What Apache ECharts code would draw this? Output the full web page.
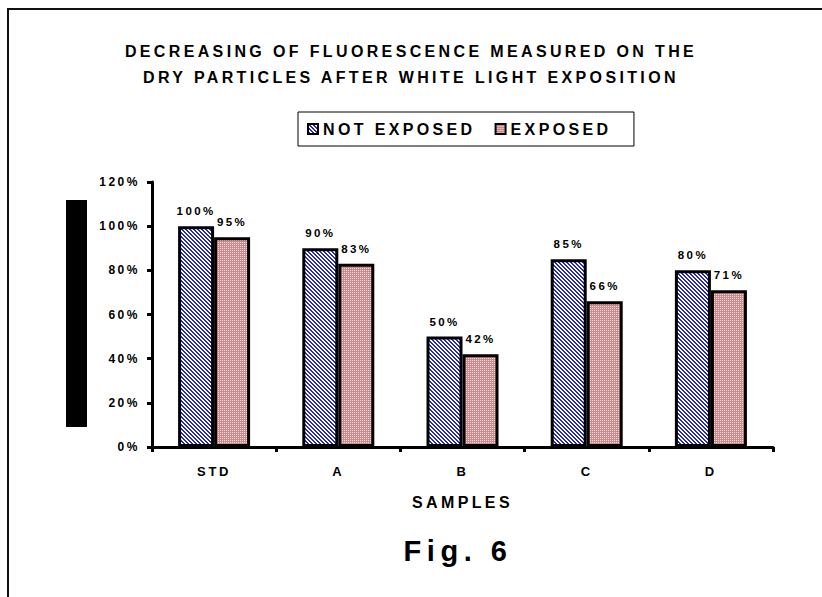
<!DOCTYPE html>
<html>
<head>
<meta charset="utf-8">
<script src="https://cdn.jsdelivr.net/npm/echarts@6/dist/echarts.min.js"></script>
<style>
  html, body { margin: 0; padding: 0; background: #fff; }
  #chart { width: 822px; height: 597px; }
  /* the original figure uses stretched, widely spaced bold text */
  #chart svg text { letter-spacing: 0.21em; }
</style>
</head>
<body>
<div id="chart"></div>
<script>
const categories = ['STD', 'A', 'B', 'C', 'D']
const notExposed = [100, 90, 50, 85, 80]
const exposed = [95, 83, 42, 66, 71]
const seriesNames = ['NOT EXPOSED', 'EXPOSED']
const yMax = 120
const yStep = 20

const FONT = '"Liberation Sans", Arial, sans-serif'

// small tiles used as fill patterns for the bars
function makeTile(paint) {
  const c = document.createElement('canvas')
  c.width = 4
  c.height = 4
  const ctx = c.getContext('2d')
  for (let x = 0; x < 4; x++) {
    for (let y = 0; y < 4; y++) {
      ctx.fillStyle = paint(x, y)
      ctx.fillRect(x, y, 1, 1)
    }
  }
  return { image: c.toDataURL(), repeat: 'repeat', imageWidth: 4, imageHeight: 4 }
}
const bluePattern = makeTile((x, y) => ((x - y + 8) % 4 < 2 ? '#2a2ab8' : '#ffffff'))
const pinkPattern = makeTile((x, y) => (x % 2 === 0 && y % 2 === 0 ? '#f4dcdc' : '#cc8a8a'))

const chart = echarts.init(document.getElementById('chart'), null, { renderer: 'svg' })

const boldText = (size) => ({
  fontFamily: FONT,
  fontSize: size,
  fontWeight: 'bold',
  color: '#000'
})

const option = {
  animation: false,
  backgroundColor: '#fff',
  textStyle: { fontFamily: FONT },
  title: {
    text: 'DECREASING OF FLUORESCENCE MEASURED ON THE\nDRY PARTICLES AFTER WHITE LIGHT EXPOSITION',
    left: 'center',
    top: 33,
    textStyle: Object.assign(boldText(16), { lineHeight: 26 })
  },
  legend: {
    left: 298,
    top: 112,
    data: seriesNames,
    orient: 'horizontal',
    padding: [9, 46, 9, 9],
    itemGap: 56,
    itemWidth: 10,
    itemHeight: 10,
    itemTextGap: 3,
    borderColor: '#000',
    borderWidth: 1,
    icon: 'rect',
    itemStyle: { borderColor: '#000', borderWidth: 2 },
    textStyle: Object.assign(boldText(16), { lineHeight: 16 })
  },
  grid: {
    left: 152,
    right: 49,
    top: 182,
    bottom: 150,
    containLabel: false
  },
  xAxis: {
    type: 'category',
    data: categories,
    name: 'SAMPLES',
    nameLocation: 'middle',
    nameGap: 47,
    nameTextStyle: boldText(16),
    axisLine: { show: true, lineStyle: { color: '#000', width: 3 } },
    axisTick: { show: true, length: 5, lineStyle: { color: '#000', width: 3 } },
    axisLabel: Object.assign(boldText(13), { margin: 18 }),
    splitLine: { show: false }
  },
  yAxis: {
    type: 'value',
    min: 0,
    max: yMax,
    interval: yStep,
    axisLine: { show: true, lineStyle: { color: '#000', width: 3 } },
    axisTick: { show: true, length: 5, lineStyle: { color: '#000', width: 3 } },
    axisLabel: Object.assign(boldText(12), { margin: 12, formatter: '{value}%' }),
    splitLine: { show: false }
  },
  series: [
    {
      name: seriesNames[0],
      type: 'bar',
      data: notExposed,
      barWidth: 36,
      barGap: '0%',
      itemStyle: { color: bluePattern, borderColor: '#000', borderWidth: 3 },
      label: Object.assign(boldText(11.5), { show: true, position: 'top', distance: 9, formatter: '{c}%' })
    },
    {
      name: seriesNames[1],
      type: 'bar',
      data: exposed,
      barWidth: 36,
      barGap: '0%',
      itemStyle: { color: pinkPattern, borderColor: '#000', borderWidth: 3 },
      label: Object.assign(boldText(11.5), { show: true, position: 'top', distance: 9, formatter: '{c}%' })
    }
  ],
  graphic: [
    // outer frame of the figure
    {
      type: 'rect',
      shape: { x: 8, y: 9, width: 830, height: 600 },
      style: { fill: 'none', stroke: '#111', lineWidth: 2 },
      silent: true
    },
    // solid block where the y axis title sits
    {
      type: 'rect',
      shape: { x: 66, y: 200, width: 21, height: 227 },
      style: { fill: '#000' },
      silent: true
    },
    {
      type: 'text',
      x: 458,
      y: 536,
      style: {
        text: 'Fig. 6',
        textAlign: 'center',
        textVerticalAlign: 'top',
        fontFamily: FONT,
        fontSize: 29,
        fontWeight: 'bold',
        fill: '#000'
      }
    }
  ]
}

chart.setOption(option)

// the caption is spaced a little tighter than the chart text
function tightenCaption() {
  document.querySelectorAll('#chart svg text').forEach(function (t) {
    if (t.textContent === 'Fig. 6') t.style.letterSpacing = '0.19em'
  })
}
chart.on('finished', tightenCaption)
setTimeout(tightenCaption, 50)
</script>
</body>
</html>
